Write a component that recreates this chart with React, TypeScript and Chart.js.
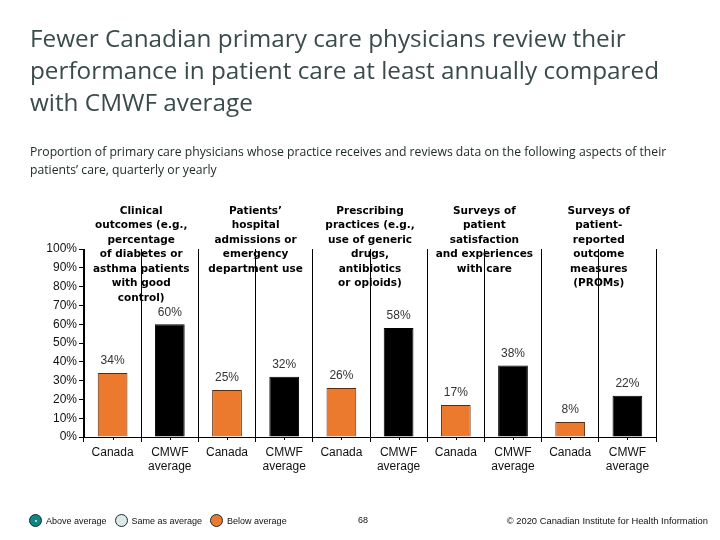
import React, { useEffect, useRef } from "react";
import { Chart, registerables } from "chart.js";
Chart.register(...registerables);

const groupTitles: string[][] = [
  ["Clinical", "outcomes (e.g.,", "percentage", "of diabetes or", "asthma patients", "with good", "control)"],
  ["Patients’", "hospital", "admissions or", "emergency", "department use"],
  ["Prescribing", "practices (e.g.,", "use of generic", "drugs,", "antibiotics", "or opioids)"],
  ["Surveys of", "patient", "satisfaction", "and experiences", "with care"],
  ["Surveys of", "patient-", "reported", "outcome", "measures", "(PROMs)"],
];
const canadaValues = [34, 25, 26, 17, 8];
const cmwfValues = [60, 32, 58, 38, 22];
const barLabels: (string | string[])[] = ["Canada", ["CMWF", "average"]];
const yTickValues = [0, 10, 20, 30, 40, 50, 60, 70, 80, 90, 100];

const ORANGE = "#EB7A2E";
const BLACK = "#000000";

export default function App() {
  const ref = useRef<HTMLCanvasElement | null>(null);

  useEffect(() => {
    if (!ref.current) return;
    const labels: (string | string[])[] = [];
    const values: number[] = [];
    const colors: string[] = [];
    const borders: string[] = [];
    canadaValues.forEach((v, i) => {
      labels.push(barLabels[0]);
      values.push(v);
      colors.push(ORANGE);
      borders.push("#5a2a0c");
      labels.push(barLabels[1]);
      values.push(cmwfValues[i]);
      colors.push(BLACK);
      borders.push(BLACK);
    });

    const extras = {
      id: "extras",
      afterDatasetsDraw(chart: any) {
        const ctx = chart.ctx;
        const meta = chart.getDatasetMeta(0);
        const x = chart.scales.x;
        const area = chart.chartArea;
        ctx.save();
        ctx.font = "12px 'Liberation Sans', Arial, sans-serif";
        ctx.fillStyle = "#333";
        ctx.textAlign = "center";
        ctx.textBaseline = "middle";
        meta.data.forEach((bar: any, i: number) => {
          ctx.fillText(values[i] + "%", bar.x, bar.y - 12);
        });
        ctx.font = "bold 10.5px 'DejaVu Sans', Verdana, sans-serif";
        ctx.fillStyle = "#000";
        groupTitles.forEach((lines, g) => {
          const cx = (x.getPixelForValue(2 * g) + x.getPixelForValue(2 * g + 1)) / 2;
          lines.forEach((ln, k) => {
            ctx.fillText(ln, cx, area.top - 38 + k * 14.5);
          });
        });
        ctx.strokeStyle = "#000";
        ctx.lineWidth = 1;
        for (let i = 0; i < values.length; i++) {
          const px = Math.round(x.getPixelForValue(i)) + 0.5;
          ctx.beginPath();
          ctx.moveTo(px, area.bottom);
          ctx.lineTo(px, area.bottom + 3);
          ctx.stroke();
        }
        ctx.restore();
      },
    };

    const chart = new Chart(ref.current, {
      type: "bar",
      data: {
        labels,
        datasets: [
          {
            data: values,
            backgroundColor: colors,
            borderColor: borders,
            borderWidth: 1,
            barPercentage: 0.52,
            categoryPercentage: 1,
          },
        ],
      },
      options: {
        animation: false,
        responsive: false,
        maintainAspectRatio: false,
        layout: { padding: { left: 34, right: 64, top: 249, bottom: 63 } },
        plugins: { legend: { display: false }, tooltip: { enabled: false } },
        scales: {
          x: {
            afterFit: (s: any) => {
              s.height = 40;
            },
            grid: {
              display: true,
              offset: true,
              color: "#000",
              lineWidth: 1,
              drawOnChartArea: true,
              tickLength: 5,
            },
            border: { display: true, color: "#000", width: 1 },
            ticks: {
              color: "#111",
              font: { family: "'Liberation Sans', Arial, sans-serif", size: 12 },
              maxRotation: 0,
              autoSkip: false,
              padding: 3,
            },
          },
          y: {
            min: 0,
            max: 100,
            afterFit: (s: any) => {
              s.width = 50;
            },
            afterBuildTicks: (s: any) => {
              s.ticks = yTickValues.map((v) => ({ value: v }));
            },
            grid: { drawOnChartArea: false, color: "#000", tickLength: 5 },
            border: { display: true, color: "#000", width: 1 },
            ticks: {
              color: "#111",
              font: { family: "'Liberation Sans', Arial, sans-serif", size: 12 },
              padding: 2,
              callback: (v: any) => v + "%",
            },
          },
        },
      },
      plugins: [extras],
    });
    return () => chart.destroy();
  }, []);

  const legendItem = (fill: string, label: string, dot?: boolean) => (
    <span style={{ display: "inline-flex", alignItems: "center", marginRight: 8 }}>
      <span
        style={{
          display: "inline-block",
          width: 11,
          height: 11,
          borderRadius: "50%",
          background: fill,
          border: "1.5px solid #1a2a2a",
          marginRight: 4,
          position: "relative",
        }}
      >
        {dot ? (
          <span
            style={{
              position: "absolute",
              left: 4.5,
              top: 4.5,
              width: 2,
              height: 2,
              background: "#cfe",
              borderRadius: "50%",
            }}
          />
        ) : null}
      </span>
      {label}
    </span>
  );

  return (
    <div style={{ position: "absolute", left: 0, top: 0, width: 720, height: 540, background: "#fff", overflow: "hidden" }}>
      <canvas ref={ref} width={720} height={540} style={{ position: "absolute", left: 0, top: 0 }} />
      <div
        style={{
          position: "absolute",
          left: 30,
          top: 22,
          fontFamily: "'Open Sans', sans-serif",
          fontSize: 24.3,
          lineHeight: "32px",
          color: "#3b4a4b",
          whiteSpace: "nowrap",
        }}
      >
        Fewer Canadian primary care physicians review their
        <br />
        performance in patient care at least annually compared
        <br />
        with CMWF average
      </div>
      <div
        style={{
          position: "absolute",
          left: 30,
          top: 143,
          fontFamily: "'Open Sans', sans-serif",
          fontSize: 12.2,
          lineHeight: "18px",
          color: "#222b2b",
          whiteSpace: "nowrap",
        }}
      >
        Proportion of primary care physicians whose practice receives and reviews data on the following aspects of their
        <br />
        patients’ care, quarterly or yearly
      </div>
      <div
        style={{
          position: "absolute",
          left: 29,
          top: 514,
          fontFamily: "'Liberation Sans', Arial, sans-serif",
          fontSize: 9,
          color: "#111",
          whiteSpace: "nowrap",
          display: "flex",
          alignItems: "center",
        }}
      >
        {legendItem("#138383", "Above average", true)}
        {legendItem("#dbe9e9", "Same as average")}
        {legendItem(ORANGE, "Below average")}
      </div>
      <div style={{ position: "absolute", left: 358, top: 515, fontFamily: "'Liberation Sans', Arial, sans-serif", fontSize: 9, color: "#111" }}>
        68
      </div>
      <div
        style={{
          position: "absolute",
          right: 12,
          top: 515,
          fontFamily: "'Liberation Sans', Arial, sans-serif",
          fontSize: 9.4,
          color: "#111",
          whiteSpace: "nowrap",
        }}
      >
        © 2020 Canadian Institute for Health Information
      </div>
    </div>
  );
}
